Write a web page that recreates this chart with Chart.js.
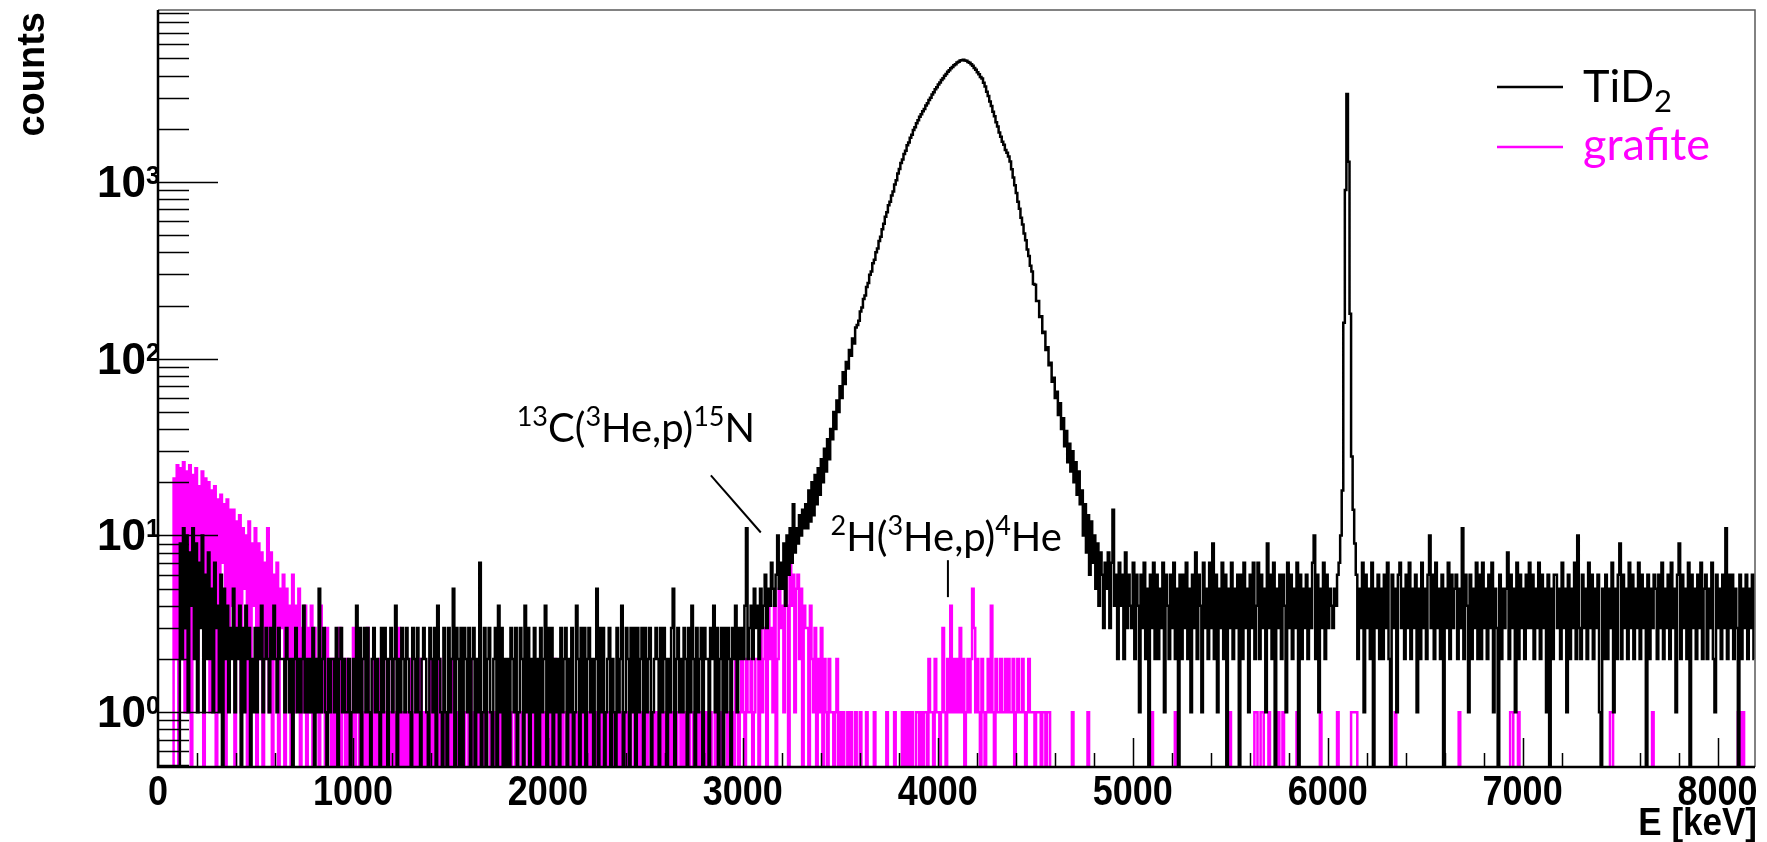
<!DOCTYPE html>
<html>
<head>
<meta charset="utf-8">
<script src="https://cdn.jsdelivr.net/npm/chart.js@4.4.1/dist/chart.umd.min.js"></script>
<style>
  html, body { margin: 0; padding: 0; background: #ffffff; }
  canvas { display: block; }
</style>
</head>
<body>
<canvas id="spectrum" width="1767" height="842"></canvas>
<script>
// channel width of both spectra, keV
var binWidth = 8;
var eMax = 8192;

var xTickLabels = ['0', '1000', '2000', '3000', '4000', '5000', '6000', '7000', '8000'];
var yDecades = [0, 1, 2, 3];

// TiD2 target, counts per channel
var tid2Low = [ // 0 - 2048 keV
    0,0,0,0,0,0,0,0,0,0,0,0,0,0,9,2,
    11,3,10,1,8,4,11,2,9,1,7,3,10,1,6,2,
    8,2,5,1,7,3,4,1,6,0,5,2,4,1,3,2,
    5,1,3,2,4,0,3,1,4,2,3,0,2,1,3,1,
    3,2,4,1,2,3,2,1,3,2,4,2,1,3,2,2,
    2,1,3,2,1,2,0,2,3,1,2,1,2,4,1,2,
    1,2,1,3,0,2,1,5,1,2,3,1,0,2,1,2,
    2,1,3,0,2,3,1,2,1,1,2,0,1,2,1,4,
    1,3,0,2,3,1,3,1,0,2,3,1,2,1,0,3,
    1,3,2,0,2,3,1,2,4,0,2,1,3,2,1,3,
    2,1,0,3,2,1,3,1,0,2,3,2,1,0,3,2,
    1,3,0,4,2,1,0,3,1,0,3,1,2,5,0,3,
    2,0,3,0,3,2,1,3,0,2,3,0,2,1,7,0,
    1,3,0,2,3,1,0,2,3,0,4,1,3,0,2,0,
    2,0,3,2,1,3,0,1,3,2,0,4,1,3,0,2,
    1,3,0,2,0,3,1,2,4,0,3,1,3,0,2,1
];
var tid2Mid = [ // 2048 - 4096 keV
    2,0,3,1,2,3,0,2,1,3,0,1,4,2,0,3,
    1,3,0,2,3,1,2,0,2,5,0,3,1,3,0,1,
    2,3,0,2,1,0,3,1,2,4,0,1,3,2,0,3,
    1,3,0,3,1,2,3,0,3,1,2,3,0,1,2,3,
    2,0,3,1,3,2,0,2,1,3,5,0,2,3,1,2,
    1,3,2,0,3,1,4,2,0,3,1,2,3,0,3,2,
    2,0,3,2,4,1,3,0,2,3,0,3,1,3,2,0,
    3,2,4,1,3,2,3,2,4,11,2,3,4,2,5,3,
    4,2,5,3,4,6,3,5,4,7,5,4,6,10,5,7,
    5,9,4,10,6,11,7,15,8,11,9,13,10,14,11,15,
    11,18,12,20,13,22,15,24,17,27,20,31,23,35,27,40,
    35,50,40,58,50,70,60,84,72,96,88,112,104,130,122,150,
    155,164,185,195,218,228,255,268,299,312,347,363,401,420,463,490,
    540,580,636,675,738,774,840,884,968,1022,1118,1183,1280,1342,1440,1502,
    1612,1671,1781,1852,1970,2043,2150,2232,2340,2414,2511,2592,2711,2793,2908,3001,
    3131,3222,3348,3441,3560,3652,3771,3862,3990,4082,4200,4281,4398,4472,4580,4642
];
var tid2High = [ // 4096 - 6144 keV
    4741,4793,4869,4892,4911,4873,4852,4782,4729,4631,4548,4421,4318,4182,4070,3921,
    3852,3648,3471,3239,3062,2851,2690,2498,2352,2180,2061,1908,1801,1688,1622,1518,
    1462,1395,1305,1180,1062,960,866,772,705,628,575,511,468,415,381,336,
    312,265,262,212,212,172,174,140,142,112,116,92,95,74,78,60,
    65,48,56,40,46,32,39,26,33,23,30,20,26,17,23,15,
    18,10,15,8,13,6,12,7,10,5,9,4,8,6,3,7,
    5,8,3,7,14,4,6,2,7,4,6,2,8,3,6,4,
    3,7,2,6,4,1,6,3,7,2,5,0,6,3,7,2,
    6,2,5,3,7,1,6,4,2,6,3,7,2,5,0,6,
    2,6,3,7,2,5,1,6,3,8,2,6,4,1,7,3,
    5,2,7,3,9,2,6,1,5,3,7,2,6,0,5,3,
    7,2,5,3,6,0,6,2,7,3,5,1,6,3,7,2,
    4,7,2,6,3,5,1,9,3,6,2,7,0,5,3,6,
    2,6,4,1,7,3,6,2,5,3,7,0,6,2,5,3,
    6,2,5,3,7,10,2,6,1,5,3,7,2,6,3,5,
    4,3,5,4,6,7,10,18,160,900,3150,1300,180,28,14,9
];
var tid2Top = [ // 6144 - 8192 keV
    6,2,5,3,7,1,6,3,5,2,7,0,5,3,6,2,
    5,2,6,3,7,2,0,6,3,5,1,6,7,3,5,2,
    6,3,7,2,5,3,6,1,5,2,7,3,5,2,6,10,
    3,6,2,7,3,5,2,6,0,5,3,7,2,6,3,5,
    6,2,5,3,11,2,6,4,1,6,2,5,3,7,2,6,
    2,7,3,5,2,6,3,7,1,5,3,0,6,2,5,3,
    5,8,2,6,3,5,1,7,2,6,3,5,2,6,3,7,
    3,6,2,5,3,7,2,6,3,5,1,6,0,5,2,6,
    6,3,5,2,7,3,5,1,6,2,5,3,7,2,10,3,
    2,6,3,5,2,7,3,6,2,5,3,6,1,0,5,2,
    6,2,5,3,7,1,5,2,6,9,2,6,3,5,2,7,
    3,6,2,5,3,7,2,6,3,5,0,6,2,5,3,6,
    5,2,6,3,7,2,5,3,6,2,7,3,5,1,6,9,
    2,6,3,5,2,7,0,6,3,5,2,6,3,7,2,5,
    6,2,5,3,7,2,1,6,3,5,2,6,3,11,2,6,
    3,6,2,5,3,0,6,2,5,3,6,2,5,3,6,2
];

// graphite blank, counts per channel
var grafiteLow = [ // 0 - 2048 keV
    0,0,0,0,0,0,0,0,0,0,21,2,25,0,24,5,
    26,1,23,8,25,0,22,4,24,2,19,6,23,0,21,3,
    20,1,18,5,19,0,16,3,17,7,15,0,16,2,14,4,
    14,0,12,3,13,1,11,5,10,0,12,2,9,4,11,0,
    9,2,8,0,7,3,11,1,8,0,6,2,7,0,5,3,
    6,0,5,2,4,0,6,1,4,2,5,0,3,1,4,0,
    3,1,4,0,3,2,1,0,4,1,2,0,3,1,2,0,
    2,0,1,0,3,0,2,1,0,2,0,1,0,3,0,1,
    1,0,2,0,1,0,3,0,1,0,2,0,1,0,2,0,
    2,0,1,0,1,0,2,0,1,0,3,0,1,0,1,0,
    1,0,2,0,1,0,1,0,2,0,1,0,1,0,2,0,
    1,0,1,0,2,0,1,0,1,0,1,0,2,0,1,0,
    1,0,0,1,0,1,1,0,2,0,1,0,1,0,1,0,
    0,1,0,1,1,0,0,1,0,1,0,2,0,1,0,1,
    1,0,1,0,0,1,0,1,1,0,1,0,0,1,0,1,
    0,1,0,1,0,0,1,0,1,1,0,1,0,0,2,0
];
var grafiteMid = [ // 2048 - 4096 keV
    1,0,1,0,1,1,0,0,1,0,1,0,1,0,0,1,
    0,1,0,1,0,1,0,1,1,0,0,1,0,1,0,0,
    1,0,0,1,0,1,1,0,1,0,0,1,0,1,1,0,
    0,1,0,0,1,0,1,0,1,0,1,1,0,0,1,0,
    1,0,1,0,1,0,0,1,0,1,0,1,1,0,0,1,
    0,1,0,1,1,0,0,1,0,0,1,0,1,0,1,0,
    1,0,1,0,0,1,0,1,0,1,1,0,0,1,0,1,
    1,0,2,1,0,1,2,1,0,2,1,1,2,0,1,2,
    2,0,3,1,2,3,0,4,2,3,1,4,0,2,5,3,
    4,1,6,4,0,7,4,6,1,5,6,2,5,0,4,3,
    3,0,4,2,1,3,0,2,1,3,0,2,1,0,2,1,
    1,0,1,2,0,1,0,1,0,0,1,0,1,0,0,1,
    0,0,1,0,0,0,1,0,0,0,0,1,0,0,0,0,
    0,0,0,1,0,0,0,0,1,0,0,0,0,1,0,1,
    0,1,0,1,0,0,1,1,0,1,0,1,1,0,2,1,
    1,0,2,1,1,0,1,3,1,0,2,1,4,1,2,1
];
var grafiteHigh = [ // 4096 - 6144 keV
    2,1,3,1,2,0,1,2,1,2,5,3,1,2,1,0,
    2,1,0,1,2,1,4,1,0,2,1,1,2,1,1,2,
    1,2,1,1,2,0,1,2,1,1,2,1,0,1,2,1,
    1,1,0,1,1,1,0,1,1,0,1,1,0,0,0,0,
    0,0,0,0,0,0,0,0,0,0,1,0,0,0,0,0,
    0,0,0,0,1,0,0,0,0,0,0,0,0,0,0,0,
    0,0,0,0,0,0,0,0,0,0,0,0,0,0,0,0,
    0,0,0,0,0,0,0,0,0,0,0,0,0,1,0,0,
    0,0,0,0,0,0,0,0,0,0,0,0,1,0,0,0,
    0,0,0,0,0,0,0,0,0,0,0,0,0,0,0,0,
    0,0,0,0,0,0,0,0,0,0,0,0,0,0,0,1,
    0,0,0,0,0,0,0,0,0,0,0,0,0,0,0,1,
    1,0,0,1,1,0,0,0,1,0,0,0,0,0,1,0,
    0,1,0,0,0,0,0,0,0,0,1,0,0,0,0,0,
    0,0,0,0,0,0,0,0,0,1,0,0,0,0,0,0,
    0,0,0,0,1,0,0,0,0,0,0,0,0,1,1,1
];
var grafiteTop = [ // 6144 - 8192 keV
    1,0,0,0,0,0,0,0,0,0,0,0,0,0,0,0,
    0,0,0,0,0,0,0,0,0,1,0,0,0,0,0,0,
    0,0,0,0,0,0,0,0,0,0,0,0,0,0,0,0,
    0,0,0,0,0,0,0,0,0,0,0,0,0,0,0,0,
    0,0,1,0,0,0,0,0,0,0,0,0,0,0,0,0,
    0,0,0,0,0,0,0,0,0,0,0,0,0,0,0,0,
    0,0,0,1,1,0,0,0,1,0,0,0,0,0,0,0,
    0,0,0,0,0,0,0,0,0,0,0,0,0,0,0,0,
    0,0,0,0,0,0,0,0,0,0,0,0,0,0,0,0,
    0,0,0,0,0,0,0,0,0,0,0,0,0,0,0,0,
    0,0,0,1,1,0,0,0,0,0,0,0,0,0,0,0,
    0,0,0,0,0,0,0,0,0,0,0,0,0,0,1,0,
    0,0,0,0,0,0,0,0,0,0,0,0,0,0,0,0,
    0,0,0,0,0,0,0,0,0,0,0,0,0,0,0,0,
    0,0,0,0,0,0,0,0,0,0,0,0,0,0,0,0,
    0,0,0,0,0,1,1,0,1,0,0,0,0,0,0,0
];

var tid2Counts = tid2Low.concat(tid2Mid, tid2High, tid2Top);
var grafiteCounts = grafiteLow.concat(grafiteMid, grafiteHigh, grafiteTop);

// histogram points at channel centres; empty channels go below the axis floor
function toPoints(counts) {
    var pts = [];
    for (var i = 0; i < counts.length; i++) {
        pts.push({ x: (i + 0.5) * binWidth, y: counts[i] > 0 ? counts[i] : 0.05 });
    }
    return pts;
}

var axisFont = '"Liberation Sans", Arial, Helvetica, sans-serif';
var noteFont = 'Lato, "Open Sans", sans-serif';

// text drawn with a vertical stretch, like the exported ROOT canvas
function stretchedText(ctx, text, x, y, sy) {
    ctx.save();
    ctx.translate(x, y);
    ctx.scale(1, sy);
    ctx.fillText(text, 0, 0);
    ctx.restore();
}

// text runs with super/subscripts: parts = [[text, 'sup'|'sub'|''], ...]
function richText(ctx, parts, x, y, size, smallSize, raise, drop) {
    var cx = x;
    for (var i = 0; i < parts.length; i++) {
        var t = parts[i][0], kind = parts[i][1];
        var s = kind ? smallSize : size;
        var dy = kind === 'sup' ? -raise : (kind === 'sub' ? drop : 0);
        ctx.font = s + 'px ' + noteFont;
        ctx.fillText(t, cx, y + dy);
        cx += ctx.measureText(t).width;
    }
}

// ROOT style frame: ticks inside, labels outside
var rootFrame = {
    id: 'rootFrame',
    afterDatasetsDraw: function (chart) {
        var ctx = chart.ctx, a = chart.chartArea;
        var xs = chart.scales.x, ys = chart.scales.y;
        ctx.save();

        ctx.strokeStyle = '#5a5a5a';
        ctx.lineWidth = 1.5;
        ctx.beginPath();
        ctx.moveTo(a.left, a.top);
        ctx.lineTo(a.right, a.top);
        ctx.lineTo(a.right, a.bottom);
        ctx.stroke();

        ctx.strokeStyle = '#000000';
        ctx.lineWidth = 2.5;
        ctx.beginPath();
        ctx.moveTo(a.left, a.top);
        ctx.lineTo(a.left, a.bottom);
        ctx.lineTo(a.right, a.bottom);
        ctx.stroke();

        // x ticks every 200 keV
        ctx.lineWidth = 1.5;
        ctx.beginPath();
        for (var v = 0; v <= eMax; v += 200) {
            var px = Math.round(xs.getPixelForValue(v)) + 0.5;
            var len = v % 1000 === 0 ? 29 : 14;
            ctx.moveTo(px, a.bottom);
            ctx.lineTo(px, a.bottom - len);
        }
        ctx.stroke();

        // y ticks, log decades
        ctx.beginPath();
        for (var d = -1; d <= 3; d++) {
            for (var m = 1; m <= 9; m++) {
                var val = m * Math.pow(10, d);
                if (val < ys.min || val > ys.max) continue;
                var py = Math.round(ys.getPixelForValue(val)) + 0.5;
                var l = m === 1 ? 60 : 31;
                ctx.moveTo(a.left, py);
                ctx.lineTo(a.left + l, py);
            }
        }
        ctx.stroke();

        ctx.fillStyle = '#000000';

        // x labels
        ctx.font = 'bold 36px ' + axisFont;
        ctx.textAlign = 'center';
        ctx.textBaseline = 'alphabetic';
        for (var i = 0; i < xTickLabels.length; i++) {
            var lx = xs.getPixelForValue(Number(xTickLabels[i]));
            stretchedText(ctx, xTickLabels[i], lx, a.bottom + 38, 1.2);
        }

        // y labels 10^n
        for (var k = 0; k < yDecades.length; k++) {
            var ty = ys.getPixelForValue(Math.pow(10, yDecades[k]));
            ctx.font = 'bold 44px ' + axisFont;
            ctx.textAlign = 'right';
            ctx.fillText('10', a.left - 12, ty + 15);
            ctx.font = 'bold 25px ' + axisFont;
            ctx.textAlign = 'left';
            ctx.fillText(String(yDecades[k]), a.left - 12, ty + 2);
        }

        // axis titles
        ctx.font = 'bold 35px ' + axisFont;
        ctx.textAlign = 'right';
        stretchedText(ctx, 'E [keV]', a.right + 2, a.bottom + 68, 1.1);

        ctx.font = 'bold 38px ' + axisFont;
        ctx.save();
        ctx.translate(44, a.top + 2);
        ctx.rotate(-Math.PI / 2);
        ctx.textAlign = 'right';
        ctx.fillText('counts', 0, 0);
        ctx.restore();

        ctx.restore();
    }
};

// reaction labels with leader lines, anchored in energy / counts
var peakNotes = {
    id: 'peakNotes',
    afterDatasetsDraw: function (chart) {
        var ctx = chart.ctx, xs = chart.scales.x, ys = chart.scales.y;
        ctx.save();
        ctx.fillStyle = '#000000';
        ctx.strokeStyle = '#000000';
        ctx.lineWidth = 2;
        ctx.textAlign = 'left';
        ctx.textBaseline = 'alphabetic';

        richText(ctx, [['13', 'sup'], ['C(', ''], ['3', 'sup'], ['He,p)', ''], ['15', 'sup'], ['N', '']],
            xs.getPixelForValue(1840), ys.getPixelForValue(34), 40, 27, 16, 0);
        ctx.beginPath();
        ctx.moveTo(xs.getPixelForValue(2836), ys.getPixelForValue(21.9));
        ctx.lineTo(xs.getPixelForValue(3092), ys.getPixelForValue(10.4));
        ctx.stroke();

        richText(ctx, [['2', 'sup'], ['H(', ''], ['3', 'sup'], ['He,p)', ''], ['4', 'sup'], ['He', '']],
            xs.getPixelForValue(3450), ys.getPixelForValue(8.2), 40, 27, 16, 0);
        ctx.beginPath();
        ctx.moveTo(xs.getPixelForValue(4052), ys.getPixelForValue(7.25));
        ctx.lineTo(xs.getPixelForValue(4052), ys.getPixelForValue(4.48));
        ctx.stroke();
        ctx.restore();
    }
};

// legend in the top right corner of the frame
var legendBox = {
    id: 'legendBox',
    afterDatasetsDraw: function (chart) {
        var ctx = chart.ctx, a = chart.chartArea;
        var ds = chart.data.datasets;
        var x0 = a.right - 258, x1 = a.right - 192;
        ctx.save();
        ctx.lineWidth = 2.5;
        ctx.strokeStyle = ds[0].borderColor;
        ctx.beginPath();
        ctx.moveTo(x0, a.top + 77);
        ctx.lineTo(x1, a.top + 77);
        ctx.stroke();
        ctx.strokeStyle = ds[1].borderColor;
        ctx.beginPath();
        ctx.moveTo(x0, a.top + 137);
        ctx.lineTo(x1, a.top + 137);
        ctx.stroke();

        ctx.textAlign = 'left';
        ctx.textBaseline = 'alphabetic';
        ctx.fillStyle = ds[0].borderColor;
        richText(ctx, [['TiD', ''], ['2', 'sub']], a.right - 172, a.top + 92, 45, 31, 0, 10);
        ctx.fillStyle = ds[1].borderColor;
        richText(ctx, [['grafite', '']], a.right - 172, a.top + 150, 45, 31, 0, 0);
        ctx.restore();
    }
};

var spectrumChart = new Chart(document.getElementById('spectrum').getContext('2d'), {
    type: 'line',
    data: {
        datasets: [
            {
                label: 'TiD2',
                data: toPoints(tid2Counts),
                borderColor: '#000000',
                borderWidth: 2.5,
                stepped: 'middle',
                pointRadius: 0,
                fill: false
            },
            {
                label: 'grafite',
                data: toPoints(grafiteCounts),
                borderColor: '#ff00ff',
                borderWidth: 2.5,
                stepped: 'middle',
                pointRadius: 0,
                fill: false
            }
        ]
    },
    options: {
        responsive: false,
        animation: false,
        devicePixelRatio: 1,
        events: [],
        layout: { padding: { left: 158, top: 10, right: 12, bottom: 75 } },
        scales: {
            x: { type: 'linear', min: 0, max: eMax, display: false },
            y: { type: 'logarithmic', min: 0.49, max: 9400, display: false }
        },
        plugins: {
            legend: { display: false },
            tooltip: { enabled: false }
        }
    },
    plugins: [rootFrame, peakNotes, legendBox]
});
</script>
</body>
</html>
